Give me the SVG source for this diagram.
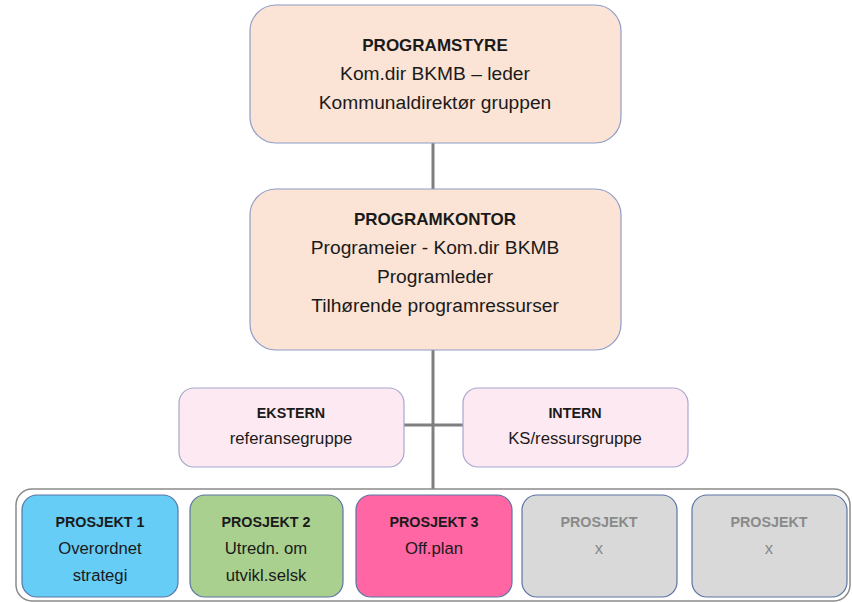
<svg xmlns="http://www.w3.org/2000/svg" width="852" height="602" viewBox="0 0 852 602">
<style>
text{font-family:"Liberation Sans",Arial,sans-serif;text-anchor:middle;fill:#1a1a1a}
.big{font-size:19.2px}
.bigb{font-size:17px;font-weight:bold}
.sm{font-size:16.7px}
.smb{font-size:14.3px;font-weight:bold}
.peach{fill:#fbe4d5;stroke:#8e9cc7;stroke-width:1.2}
.pink{fill:#fde9f1;stroke:#a7a7cf;stroke-width:1.2}
.proj{stroke:#5b74a3;stroke-width:1.2}
.grey text{fill:#8a8a8a}
.line{stroke:#7f7f7f;stroke-width:3;fill:none}
</style>
<rect width="852" height="602" fill="#fff"/>
<g id="connectors">
<line class="line" x1="433" y1="143" x2="433" y2="189"/>
<line class="line" x1="433" y1="350" x2="433" y2="490"/>
<line class="line" x1="404" y1="425" x2="463" y2="425"/>
</g>
<g id="programstyre">
<rect class="peach" x="250" y="5" width="371" height="138" rx="26"/>
<text class="bigb" x="435" y="51">PROGRAMSTYRE</text>
<text class="big" x="435" y="80">Kom.dir BKMB – leder</text>
<text class="big" x="435" y="109">Kommunaldirektør gruppen</text>
</g>
<g id="programkontor">
<rect class="peach" x="250" y="189" width="371" height="161" rx="26"/>
<text class="bigb" x="435" y="225">PROGRAMKONTOR</text>
<text class="big" x="435" y="254">Programeier - Kom.dir BKMB</text>
<text class="big" x="435" y="283">Programleder</text>
<text class="big" x="435" y="312">Tilhørende programressurser</text>
</g>
<g id="ekstern">
<rect class="pink" x="179" y="388" width="225" height="79" rx="15"/>
<text class="smb" x="291" y="418">EKSTERN</text>
<text class="sm" x="291" y="444">referansegruppe</text>
</g>
<g id="intern">
<rect class="pink" x="463" y="388" width="225" height="79" rx="15"/>
<text class="smb" x="575" y="418">INTERN</text>
<text class="sm" x="575" y="444">KS/ressursgruppe</text>
</g>
<g id="prosjekter">
<rect x="16" y="489" width="834" height="112" rx="16" fill="#fff" stroke="#8a8a8a" stroke-width="1.5"/>
</g>
<g id="prosjekt1">
<rect class="proj" x="22" y="495" width="156" height="102" rx="15" fill="#66cdf6"/>
<text class="smb" x="100" y="527">PROSJEKT 1</text>
<text class="sm" x="100" y="554">Overordnet</text>
<text class="sm" x="100" y="581">strategi</text>
</g>
<g id="prosjekt2">
<rect class="proj" x="190" y="495" width="153" height="102" rx="15" fill="#a9d08e"/>
<text class="smb" x="266" y="527">PROSJEKT 2</text>
<text class="sm" x="266" y="554">Utredn. om</text>
<text class="sm" x="266" y="581">utvikl.selsk</text>
</g>
<g id="prosjekt3">
<rect class="proj" x="356" y="495" width="156" height="102" rx="15" fill="#ff66a3"/>
<text class="smb" x="434" y="527">PROSJEKT 3</text>
<text class="sm" x="434" y="554">Off.plan</text>
</g>
<g id="prosjekt4" class="grey">
<rect class="proj" x="522" y="495" width="155" height="102" rx="15" fill="#d9d9d9"/>
<text class="smb" x="599" y="527">PROSJEKT</text>
<text class="sm" x="599" y="554">x</text>
</g>
<g id="prosjekt5" class="grey">
<rect class="proj" x="692" y="495" width="155" height="102" rx="15" fill="#d9d9d9"/>
<text class="smb" x="769" y="527">PROSJEKT</text>
<text class="sm" x="769" y="554">x</text>
</g>
</svg>
